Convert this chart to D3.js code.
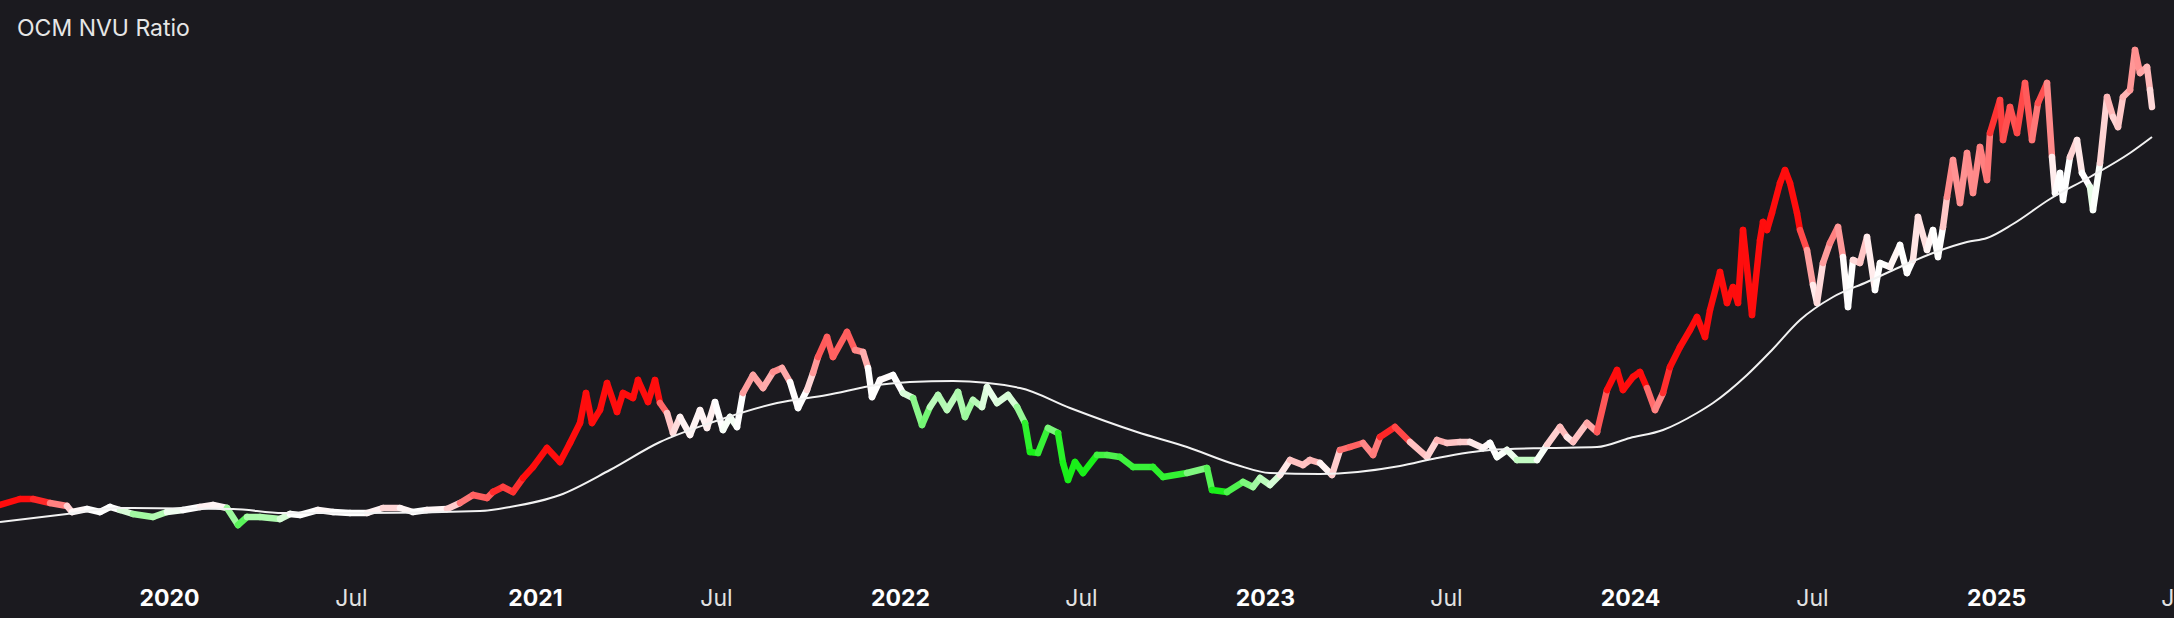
<!DOCTYPE html>
<html lang="en">
<head>
    <meta charset="utf-8">
    <style type="text/css">
        html, body {
            margin: 0;
            padding: 0;
            background: #1b1a1f;
        }

        svg {
            display: block;
            font-family: Inter, "Noto Sans", sans-serif;
        }

        .ratio-seg {
            fill: none;
            stroke-width: 6.5px;
            stroke-linecap: round;
        }

        .ma-line {
            fill: none;
            stroke: #f2f2f2;
            stroke-width: 2px;
        }
    </style>
</head>
<body>
<svg width="2174" height="618"></svg>

<script src="https://cdn.jsdelivr.net/npm/d3@7/dist/d3.min.js"></script>

<script type="text/javascript">
    // NVU ratio
    var ratioDates = [
        "2019-07-16", "2019-08-05", "2019-08-18", "2019-09-04", "2019-09-21", "2019-09-26", "2019-10-11", "2019-10-24",
        "2019-11-03", "2019-11-13", "2019-11-26", "2019-12-16", "2019-12-30", "2020-01-15", "2020-02-01", "2020-02-14",
        "2020-02-28", "2020-03-10", "2020-03-19", "2020-04-01", "2020-04-21", "2020-05-01", "2020-05-11", "2020-05-29",
        "2020-06-13", "2020-06-30", "2020-07-17", "2020-08-02", "2020-08-19", "2020-09-01", "2020-09-15", "2020-10-05",
        "2020-10-18", "2020-10-31", "2020-11-14", "2020-11-20", "2020-11-30", "2020-12-10", "2020-12-20", "2020-12-30",
        "2021-01-13", "2021-01-26", "2021-02-05", "2021-02-15", "2021-02-21", "2021-02-27", "2021-03-07", "2021-03-14",
        "2021-03-24", "2021-03-30", "2021-04-09", "2021-04-14", "2021-04-24", "2021-05-01", "2021-05-06", "2021-05-13",
        "2021-05-19", "2021-05-26", "2021-06-05", "2021-06-15", "2021-06-22", "2021-06-30", "2021-07-08", "2021-07-15",
        "2021-07-22", "2021-07-28", "2021-08-07", "2021-08-17", "2021-08-27", "2021-09-05", "2021-09-13", "2021-09-21",
        "2021-09-30", "2021-10-06", "2021-10-11", "2021-10-20", "2021-10-26", "2021-11-09", "2021-11-17", "2021-11-25",
        "2021-11-30", "2021-12-04", "2021-12-12", "2021-12-25", "2022-01-04", "2022-01-14", "2022-01-23", "2022-01-31",
        "2022-02-08", "2022-02-17", "2022-02-28", "2022-03-07", "2022-03-15", "2022-03-24", "2022-03-29", "2022-04-08",
        "2022-04-19", "2022-04-28", "2022-05-06", "2022-05-11", "2022-05-19", "2022-05-29", "2022-06-08", "2022-06-13",
        "2022-06-18", "2022-06-25", "2022-07-03", "2022-07-17", "2022-07-27", "2022-08-09", "2022-08-22", "2022-09-11",
        "2022-09-21", "2022-10-15", "2022-11-04", "2022-11-09", "2022-11-24", "2022-12-10", "2022-12-20", "2022-12-27",
        "2023-01-06", "2023-01-16", "2023-01-26", "2023-02-08", "2023-02-15", "2023-02-25", "2023-03-09", "2023-03-17",
        "2023-03-27", "2023-04-09", "2023-04-19", "2023-04-26", "2023-05-11", "2023-05-26", "2023-06-12", "2023-06-22",
        "2023-07-02", "2023-07-15", "2023-07-25", "2023-08-07", "2023-08-14", "2023-08-21", "2023-08-31", "2023-09-10",
        "2023-09-30", "2023-10-10", "2023-10-23", "2023-10-30", "2023-11-05", "2023-11-19", "2023-11-29", "2023-12-09",
        "2023-12-19", "2023-12-25", "2024-01-04", "2024-01-11", "2024-01-18", "2024-01-26", "2024-02-03", "2024-02-10",
        "2024-02-20", "2024-03-01", "2024-03-08", "2024-03-16", "2024-03-21", "2024-03-31", "2024-04-07", "2024-04-13",
        "2024-04-18", "2024-04-23", "2024-05-02", "2024-05-10", "2024-05-13", "2024-05-17", "2024-05-22", "2024-05-30",
        "2024-06-04", "2024-06-09", "2024-06-16", "2024-06-19", "2024-06-26", "2024-07-02", "2024-07-06", "2024-07-12",
        "2024-07-19", "2024-07-27", "2024-08-01", "2024-08-06", "2024-08-11", "2024-08-18", "2024-08-25", "2024-09-02",
        "2024-09-07", "2024-09-17", "2024-09-27", "2024-10-04", "2024-10-10", "2024-10-15", "2024-10-24", "2024-10-30",
        "2024-11-04", "2024-11-09", "2024-11-13", "2024-11-19", "2024-11-26", "2024-12-03", "2024-12-09", "2024-12-16",
        "2024-12-23", "2024-12-26", "2025-01-05", "2025-01-08", "2025-01-15", "2025-01-22", "2025-01-30", "2025-02-06",
        "2025-02-12", "2025-02-21", "2025-02-26", "2025-03-01", "2025-03-06", "2025-03-09", "2025-03-16", "2025-03-23",
        "2025-03-28", "2025-04-05", "2025-04-08", "2025-04-15", "2025-04-22", "2025-04-28", "2025-05-03", "2025-05-08",
        "2025-05-15", "2025-05-20", "2025-05-25", "2025-06-01", "2025-06-04", "2025-06-06"
    ];

    var ratioValues = [
        0.55, 0.61, 0.61, 0.57, 0.54, 0.48, 0.51, 0.48,
        0.53, 0.50, 0.46, 0.43, 0.48, 0.50, 0.53, 0.55,
        0.52, 0.35, 0.43, 0.43, 0.41, 0.46, 0.45, 0.50,
        0.48, 0.47, 0.47, 0.52, 0.52, 0.48, 0.50, 0.51,
        0.57, 0.65, 0.62, 0.68, 0.73, 0.68, 0.82, 0.93,
        1.12, 0.98, 1.17, 1.37, 1.67, 1.37, 1.50, 1.77,
        1.48, 1.67, 1.62, 1.80, 1.58, 1.80, 1.57, 1.47,
        1.27, 1.43, 1.25, 1.50, 1.32, 1.58, 1.30, 1.43,
        1.33, 1.67, 1.85, 1.72, 1.88, 1.92, 1.78, 1.52,
        1.70, 1.87, 2.03, 2.23, 2.03, 2.28, 2.10, 2.08,
        1.92, 1.63, 1.80, 1.85, 1.67, 1.62, 1.35, 1.53,
        1.65, 1.50, 1.68, 1.43, 1.60, 1.53, 1.73, 1.57,
        1.65, 1.53, 1.37, 1.08, 1.07, 1.32, 1.27, 0.97,
        0.80, 0.98, 0.87, 1.05, 1.05, 1.03, 0.93, 0.93,
        0.83, 0.87, 0.92, 0.70, 0.68, 0.78, 0.73, 0.82,
        0.75, 0.85, 1.00, 0.95, 1.00, 0.97, 0.85, 1.10,
        1.13, 1.17, 1.05, 1.23, 1.33, 1.18, 1.03, 1.20,
        1.17, 1.18, 1.18, 1.12, 1.17, 1.03, 1.10, 1.00,
        1.00, 1.15, 1.33, 1.23, 1.18, 1.37, 1.28, 1.70,
        1.90, 1.70, 1.83, 1.88, 1.72, 1.50, 1.67, 1.93,
        2.13, 2.30, 2.43, 2.23, 2.50, 2.88, 2.57, 2.73,
        2.57, 3.30, 2.45, 3.20, 3.38, 3.30, 3.47, 3.77,
        3.90, 3.77, 3.47, 3.30, 3.10, 2.75, 2.57, 2.97,
        3.17, 3.33, 3.03, 2.53, 3.00, 2.97, 3.23, 2.70,
        2.97, 2.93, 3.15, 2.87, 3.00, 3.43, 3.10, 3.30,
        3.03, 3.33, 3.63, 4.00, 3.57, 4.07, 3.67, 4.13,
        3.80, 4.27, 4.60, 4.20, 4.53, 4.27, 4.77, 4.20,
        4.57, 4.77, 4.03, 3.67, 3.87, 3.60, 4.03, 4.20,
        3.87, 3.73, 3.50, 3.97, 4.63, 4.43, 4.33, 4.63,
        4.70, 5.10, 4.87, 4.93, 4.70, 4.53
    ];

    // long moving average (thin white line)
    var maDates = [
        "2019-07-16", "2019-09-21", "2019-11-10", "2020-03-05", "2020-04-24", "2020-07-17", "2020-11-07", "2020-12-07",
        "2021-01-26", "2021-03-17", "2021-05-06", "2021-06-25", "2021-08-31", "2021-10-20", "2021-12-09", "2022-01-11",
        "2022-02-23", "2022-05-01", "2022-06-20", "2022-08-26", "2022-10-15", "2022-12-04", "2023-01-06", "2023-02-25",
        "2023-05-16", "2023-06-22", "2023-08-14", "2023-10-10", "2023-11-29", "2024-01-01", "2024-02-03", "2024-03-08",
        "2024-03-24", "2024-04-27", "2024-05-22", "2024-06-19", "2024-07-22", "2024-08-25", "2024-09-27", "2024-10-30",
        "2024-12-03", "2024-12-23", "2025-01-18", "2025-02-24", "2025-04-05", "2025-05-15", "2025-06-06"
    ];

    var maValues = [
        0.38, 0.46, 0.52, 0.51, 0.47, 0.47, 0.49, 0.53,
        0.65, 0.90, 1.18, 1.37, 1.57, 1.65, 1.75, 1.78,
        1.79, 1.72, 1.52, 1.28, 1.13, 0.95, 0.87, 0.86,
        0.94, 1.02, 1.10, 1.12, 1.13, 1.22, 1.30, 1.47,
        1.57, 1.85, 2.10, 2.40, 2.63, 2.78, 2.93, 3.07,
        3.18, 3.22, 3.36, 3.61, 3.83, 4.07, 4.23
    ];

    var tickDates = [
        "2020-01-01", "2020-07-01", "2021-01-01", "2021-07-01", "2022-01-01", "2022-07-01",
        "2023-01-01", "2023-07-01", "2024-01-01", "2024-07-01", "2025-01-01", "2025-07-01"
    ];

    var parse = d3.utcParse("%Y-%m-%d");

    var svg = d3.select("svg"),
        width = +svg.attr("width"),
        height = +svg.attr("height");

    svg.append("rect")
        .attr("width", width)
        .attr("height", height)
        .attr("fill", "#1b1a1f");

    var x = d3.scaleUtc()
        .domain([parse("2019-07-16"), parse("2025-06-28")])
        .range([0, width]);

    var y = d3.scaleLinear()
        .domain([0, 5.6])
        .range([560, 0]);

    var points = ratioDates.map(function (d, i) {
        return {date: parse(d), value: ratioValues[i]};
    });
    var ma = maDates.map(function (d, i) {
        return {date: parse(d), value: maValues[i]};
    });

    // ma level at any date, for colouring the ratio line
    var maAt = d3.scaleUtc()
        .domain(ma.map(function (d) { return d.date; }))
        .range(maValues)
        .clamp(true);

    var color = d3.scaleLinear()
        .domain([0.7, 0.97, 1.03, 1.42])
        .range(["#19f019", "#ffffff", "#ffffff", "#ff0d0d"])
        .clamp(true);

    var segs = d3.pairs(points);

    svg.append("g")
        .selectAll("path")
        .data(segs)
        .enter()
        .append("path")
        .attr("class", "ratio-seg")
        .attr("d", function (p) {
            return "M" + x(p[0].date) + "," + y(p[0].value) + "L" + x(p[1].date) + "," + y(p[1].value);
        })
        .attr("stroke", function (p) {
            var r = (p[0].value / maAt(p[0].date) + p[1].value / maAt(p[1].date)) / 2;
            return color(r);
        });

    var maLine = d3.line()
        .curve(d3.curveMonotoneX)
        .x(function (d) { return x(d.date); })
        .y(function (d) { return y(d.value); });

    svg.append("path")
        .datum(ma)
        .attr("class", "ma-line")
        .attr("d", maLine);

    // x axis, labels only
    var axis = d3.axisBottom(x)
        .tickValues(tickDates.map(parse))
        .tickSize(0)
        .tickFormat(function (d) {
            return d.getUTCMonth() === 0 ? d3.utcFormat("%Y")(d) : d3.utcFormat("%b")(d);
        });

    var gx = svg.append("g")
        .attr("transform", "translate(0,583)")
        .call(axis);

    gx.select(".domain").remove();
    gx.selectAll("text")
        .attr("y", 23)
        .attr("dy", null)
        .attr("font-family", "Inter, 'Noto Sans', sans-serif")
        .attr("font-size", 23)
        .attr("fill", function (d) { return d.getUTCMonth() === 0 ? "#ffffff" : "#e2e2e2"; })
        .attr("font-weight", function (d) { return d.getUTCMonth() === 0 ? 700 : 400; });

    svg.append("text")
        .attr("x", 17)
        .attr("y", 36)
        .attr("font-size", 23)
        .attr("fill", "#e6e6e6")
        .text("OCM NVU Ratio");
</script>

</body>
</html>
